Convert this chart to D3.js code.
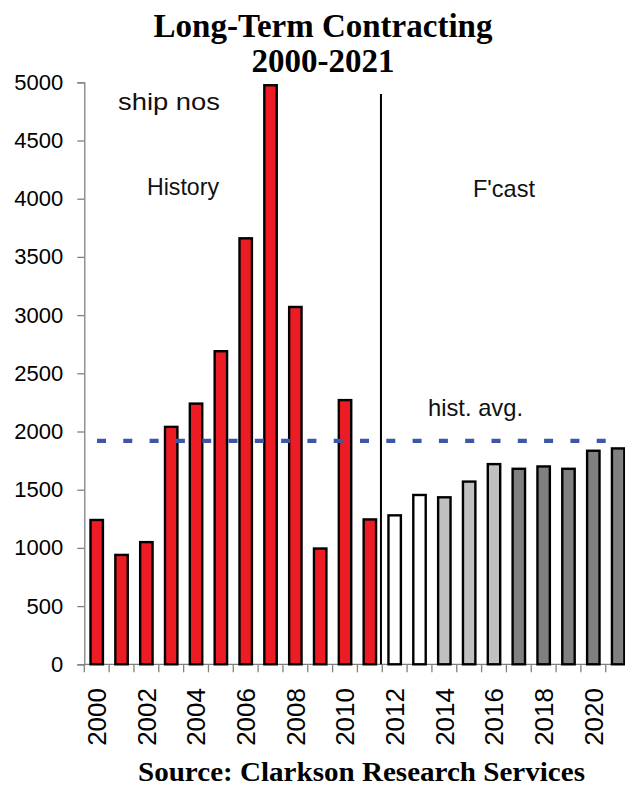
<!DOCTYPE html>
<html>
<head>
<meta charset="utf-8">
<script src="https://cdn.jsdelivr.net/npm/d3@7"></script>
<style>
  html, body { margin: 0; padding: 0; background: #fff; }
  svg { display: block; }
</style>
</head>
<body>
<svg id="chart" width="625" height="788"></svg>
<script>
// ---- data ----
const years = [2000,2001,2002,2003,2004,2005,2006,2007,2008,2009,2010,2011,
               2012,2013,2014,2015,2016,2017,2018,2019,2020,2021];
const contracts = [1250,950,1060,2050,2250,2700,3670,4985,3080,1005,2280,1255,
                   1290,1465,1445,1580,1730,1690,1710,1690,1845,1865];
const phases = ["hist","hist","hist","hist","hist","hist","hist","hist","hist","hist","hist","hist",
                "f1","f1","f2","f2","f2","f3","f3","f3","f3","f3"];
const histAvg = 1920;
const yTicks = [0,500,1000,1500,2000,2500,3000,3500,4000,4500,5000];
const xLabelYears = [2000,2002,2004,2006,2008,2010,2012,2014,2016,2018,2020];
const forecastStart = 2012;
const titleLines = ["Long-Term Contracting", "2000-2021"];
const sourceText = "Source: Clarkson Research Services";

// ---- layout ----
const svg = d3.select("#chart");
const x0 = 84.3, step = 24.83;
const x = d3.scaleBand().domain(years).range([x0, x0 + step * years.length]).paddingInner(0.5).paddingOuter(0.25);
const y = d3.scaleLinear().domain([0, 5000]).range([664.3, 82.3]);
const color = d3.scaleOrdinal().domain(["hist","f1","f2","f3"]).range(["#ed1c24","#ffffff","#c0c0c0","#808080"]);
const sans = "'Liberation Sans', Arial, sans-serif";
const serif = "'Liberation Serif', 'Times New Roman', serif";

// title
svg.selectAll("text.title").data(titleLines).join("text")
  .attr("class","title")
  .attr("x", 323).attr("y", (d,i) => [37, 72][i])
  .attr("text-anchor","middle")
  .attr("font-family", serif).attr("font-weight","bold").attr("font-size", 33)
  .attr("fill","#000")
  .text(d => d);

// y axis
const yAxis = svg.append("g").attr("transform", `translate(${x0},0)`)
  .call(d3.axisLeft(y).tickValues(yTicks).tickSize(7).tickPadding(14).tickFormat(d3.format("d")));
yAxis.select(".domain").attr("stroke","#808080").attr("stroke-width",1.3);
yAxis.selectAll(".tick line").attr("stroke","#808080").attr("stroke-width",1.3);
yAxis.selectAll(".tick text").attr("font-family", sans).attr("font-size", 22).attr("fill","#000");

// x axis (ticks at category boundaries)
const boundaries = d3.range(years.length + 1).map(i => x0 + i * step);
const xg = svg.append("g");
xg.append("line").attr("x1", x0).attr("x2", x0 + step * years.length)
  .attr("y1", y(0)).attr("y2", y(0)).attr("stroke","#808080").attr("stroke-width",1.3);
xg.selectAll("line.tk").data(boundaries).join("line").attr("class","tk")
  .attr("x1", d => d).attr("x2", d => d).attr("y1", y(0)).attr("y2", y(0) + 8)
  .attr("stroke","#808080").attr("stroke-width",1.3);
xg.selectAll("text").data(xLabelYears).join("text")
  .attr("transform", d => `translate(${x(d) + x.bandwidth()/2},688) rotate(-90)`)
  .attr("text-anchor","end").attr("dy","0.36em")
  .attr("font-family", sans).attr("font-size", 26).attr("fill","#000")
  .text(d => d);

// bars
svg.append("g").selectAll("rect").data(years).join("rect")
  .attr("x", d => x(d))
  .attr("width", x.bandwidth())
  .attr("y", (d,i) => y(contracts[i]) + 1.2)
  .attr("height", (d,i) => y(0) - y(contracts[i]) - 1.2)
  .attr("fill", (d,i) => color(phases[i]))
  .attr("stroke","#000").attr("stroke-width",2.4);

// average line
svg.append("line")
  .attr("x1", 97).attr("x2", 614)
  .attr("y1", y(histAvg)).attr("y2", y(histAvg))
  .attr("stroke","#3d56a8").attr("stroke-width",4.2)
  .attr("stroke-dasharray","9,17.3");

// history / forecast divider
const divX = x0 + step * years.indexOf(forecastStart) - 1.3;
svg.append("line").attr("x1", divX).attr("x2", divX).attr("y1", 94).attr("y2", y(0))
  .attr("stroke","#000").attr("stroke-width",2);

// annotations
const notes = [
  {t:"ship nos", x:118, y:110, w:102},
  {t:"History", x:147, y:195, w:72},
  {t:"F'cast", x:473, y:197, w:62},
  {t:"hist. avg.", x:428, y:416, w:95}
];
svg.selectAll("text.note").data(notes).join("text").attr("class","note")
  .attr("x", d => d.x).attr("y", d => d.y)
  .attr("textLength", d => d.w).attr("lengthAdjust","spacingAndGlyphs")
  .attr("font-family", sans).attr("font-size", 24).attr("fill","#111")
  .text(d => d.t);

// source
svg.append("text").attr("x", 138).attr("y", 781)
  .attr("textLength", 447).attr("lengthAdjust","spacingAndGlyphs")
  .attr("font-family", serif).attr("font-weight","bold").attr("font-size", 28)
  .attr("fill","#000").text(sourceText);
</script>
</body>
</html>
